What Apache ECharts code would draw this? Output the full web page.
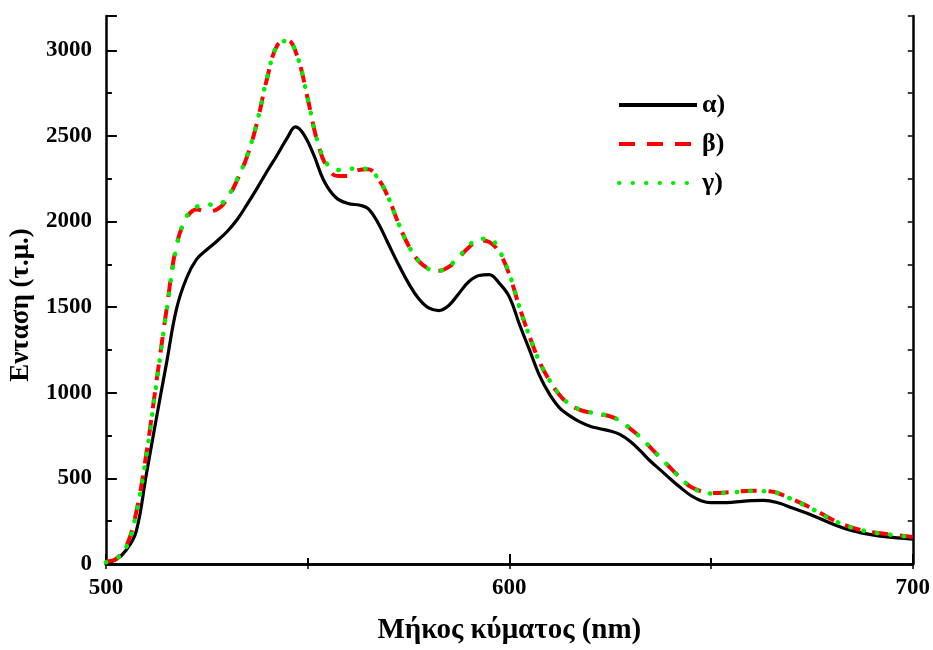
<!DOCTYPE html>
<html><head><meta charset="utf-8">
<script src="https://cdn.jsdelivr.net/npm/echarts@6/dist/echarts.min.js"></script>
<style>html,body{margin:0;padding:0;background:#fff}#c{width:933px;height:650px}</style>
</head><body><div id="c"></div>
<script>
const seriesNames = ['α)', 'β)', 'γ)'];
const wlA = [500,502.5,505,507.5,510,512.5,515,517.5,520,522.5,525,527.5,530,532.5,535,537.5,540,542.5,545,547,549,551.5,554,557,560,563,565,567.5,570,572.5,575,577.5,580,582.5,585,587.5,590,592.5,595,597.5,600,602.5,605,607.5,610,612.5,615,617.5,620,622.5,625,627.5,630,632.5,635,637.5,640,642.5,645,647.5,650,655,660,663,667,670,675,680,685,690,695,700];
const alpha = [8,25,80,190,520,850,1170,1490,1670,1780,1835,1885,1940,2010,2100,2195,2295,2390,2490,2552,2510,2390,2240,2140,2105,2095,2075,1990,1870,1750,1640,1550,1495,1480,1510,1580,1650,1685,1690,1640,1560,1400,1250,1100,990,910,865,830,805,790,777,755,715,660,600,548,495,445,400,370,358,360,370,372,355,328,285,235,195,170,155,145];
const wlB = [500,502.5,505,507.5,510,512.5,515,517.5,520,522.5,525,527.5,530,532.5,535,537.5,540,542.5,545,547.5,550,552.5,555,557.5,560,562.5,565,567.5,570,572.5,575,577.5,580,582.5,585,587.5,590,592.5,595,597.5,600,602.5,605,607.5,610,612.5,615,617.5,620,622.5,625,627.5,630,632.5,635,637.5,640,642.5,645,647.5,650,655,660,665,667.5,670,675,680,685,690,695,700];
const beta = [15,30,100,300,640,1060,1480,1860,2020,2070,2060,2070,2130,2240,2380,2580,2840,3030,3058,2960,2720,2460,2310,2265,2265,2300,2305,2250,2140,1990,1860,1770,1725,1712,1735,1790,1850,1890,1880,1820,1690,1500,1330,1180,1070,985,930,900,885,875,862,835,790,740,680,618,560,500,450,425,415,420,428,424,405,380,325,260,212,185,172,158];
const gamma = [10,30,95,295,630,1050,1470,1850,2030,2085,2100,2095,2140,2245,2385,2585,2845,3030,3055,2960,2720,2465,2330,2300,2305,2310,2305,2250,2140,1990,1860,1770,1722,1712,1738,1795,1860,1900,1900,1830,1695,1500,1330,1180,1072,988,932,902,886,876,862,835,790,740,680,618,560,500,450,422,412,418,426,422,405,378,322,258,212,185,170,156];
const xTicks = [500, 600, 700];
const yTicks = [0, 500, 1000, 1500, 2000, 2500, 3000];

const pairs = (xs, ys) => xs.map((x, i) => [x, ys[i]]);
const font = 'Liberation Serif';
const chart = echarts.init(document.getElementById('c'));
chart.setOption({
  backgroundColor: '#fff',
  animation: false,
  grid: { left: 105, right: 17, top: 16, bottom: 83 },
  legend: {
    orient: 'vertical', left: 612, top: 87, itemGap: 13, itemWidth: 78, itemHeight: 30,
    itemStyle: { opacity: 0 },
    lineStyle: { width: 4 },
    textStyle: { fontFamily: font, fontWeight: 'bold', fontSize: 26, color: '#000' },
    data: seriesNames
  },
  xAxis: [
    { type: 'value', min: xTicks[0], max: xTicks[xTicks.length - 1], interval: 100,
      name: 'Μήκος κύματος (nm)', nameLocation: 'middle', nameGap: 52,
      nameTextStyle: { fontFamily: font, fontWeight: 'bold', fontSize: 29, color: '#000' },
      axisLine: { lineStyle: { color: '#000', width: 2.5 } },
      axisTick: { inside: true, length: 10, lineStyle: { color: '#000', width: 2 } },
      minorTick: { show: true, splitNumber: 2, length: 6, lineStyle: { color: '#000', width: 2 } },
      axisLabel: { fontFamily: font, fontWeight: 'bold', fontSize: 23, color: '#000', margin: 13 },
      splitLine: { show: false } },
    { type: 'value', position: 'top', min: 500, max: 700, interval: 50,
      axisLine: { lineStyle: { color: '#000', width: 2.5 } },
      axisTick: { inside: true, length: 5, lineStyle: { color: '#000', width: 1.5 } },
      axisLabel: { show: false }, splitLine: { show: false } }
  ],
  yAxis: [
    { type: 'value', min: 0, max: 3200, interval: 500,
      name: 'Ενταση (τ.μ.)', nameLocation: 'middle', nameGap: 66,
      nameTextStyle: { fontFamily: font, fontWeight: 'bold', fontSize: 27, color: '#000', padding: [0, 30, 0, 0] },
      axisLine: { lineStyle: { color: '#000', width: 2.5 } },
      axisTick: { inside: true, length: 11, lineStyle: { color: '#000', width: 2 } },
      axisLabel: { fontFamily: font, fontWeight: 'bold', fontSize: 23, color: '#000', margin: 14,
        formatter: v => (yTicks.indexOf(v) >= 0 ? String(v) : '') },
      splitLine: { show: false } },
    { type: 'value', min: 0, max: 3200, interval: 250, position: 'left',
      axisLine: { show: false },
      axisTick: { inside: true, length: 6, lineStyle: { color: '#000', width: 2 } },
      axisLabel: { show: false }, splitLine: { show: false } },
    { type: 'value', min: 0, max: 3200, interval: 250, position: 'right',
      axisLine: { show: true, lineStyle: { color: '#000', width: 2.5 } },
      axisTick: { show: true, inside: true, length: 5, lineStyle: { color: '#000', width: 1.5 } },
      axisLabel: { show: false }, splitLine: { show: false } }
  ],
  series: [
    { name: seriesNames[0], type: 'line', smooth: 0.4, showSymbol: false, symbol: 'none',
      data: pairs(wlA, alpha), color: '#000',
      lineStyle: { color: '#000', width: 3.2 } },
    { name: seriesNames[1], type: 'line', smooth: 0.4, showSymbol: false, symbol: 'none',
      data: pairs(wlB, beta), color: '#ff0000',
      lineStyle: { color: '#ff0000', width: 4, type: [16, 12] } },
    { name: seriesNames[2], type: 'line', smooth: 0.4, showSymbol: false, symbol: 'none',
      data: pairs(wlB, gamma), color: '#00ee00',
      lineStyle: { color: '#00ee00', width: 4.5, type: [0.5, 13], cap: 'round' } }
  ]
});
</script></body></html>
